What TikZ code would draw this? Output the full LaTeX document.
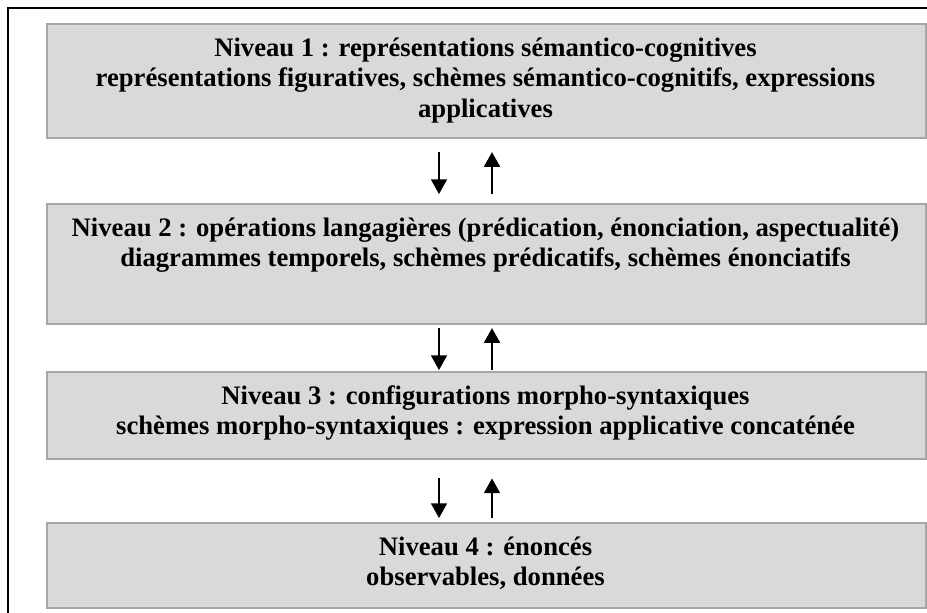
\documentclass[tikz,border=0pt]{standalone}
\usepackage{fontspec}
\setmainfont{Liberation Serif}
\usetikzlibrary{arrows.meta}
\begin{document}
\begin{tikzpicture}[x=0.75pt,y=-0.75pt,
  levelbox/.style={draw=boxedge, fill=boxfill, line width=1.6pt,
    minimum width=659pt, inner sep=0pt, anchor=north west},
  textline/.style={anchor=base, inner sep=0pt,
    font=\bfseries\fontsize{20}{23}\selectfont},
  flow/.style={line width=1.2pt, -{Triangle[width=12pt,length=11pt]}}]
\definecolor{boxfill}{HTML}{D9D9D9}
\definecolor{boxedge}{HTML}{A6A6A6}
\useasboundingbox (0,0) rectangle (927,612);
\clip (0,0) rectangle (927,612);
\fill[white] (0,0) rectangle (927,612);
% outer frame, running past the right and bottom edges
\draw[line width=1.6pt] (8,8) rectangle (960,650);

% the four levels
\node[levelbox, minimum height=85.5pt]  (n1) at (46,23) {};
\node[levelbox, minimum height=90pt]    (n2) at (46,203) {};
\node[levelbox, minimum height=65pt]    (n3) at (46,371) {};
\node[levelbox, minimum height=63.75pt] (n4) at (46,522) {};

% level texts, one node per line, placed on their baselines
\node[textline] (t1a) at (485.5,56)    {Niveau 1 : représentations sémantico-cognitives};
\node[textline] (t1b) at (485.5,86.6)  {représentations figuratives, schèmes sémantico-cognitifs, expressions};
\node[textline] (t1c) at (485.5,117.2) {applicatives};
\node[textline] (t2a) at (485.5,236)   {Niveau 2 : opérations langagières (prédication, énonciation, aspectualité)};
\node[textline] (t2b) at (485.5,266.6) {diagrammes temporels, schèmes prédicatifs, schèmes énonciatifs};
\node[textline] (t3a) at (485.5,404)   {Niveau 3 : configurations morpho-syntaxiques};
\node[textline] (t3b) at (485.5,434.6) {schèmes morpho-syntaxiques : expression applicative concaténée};
\node[textline] (t4a) at (485.5,555)   {Niveau 4 : énoncés};
\node[textline] (t4b) at (485.5,585.6) {observables, données};

% arrows between consecutive levels
\coordinate (dn) at (439,0);
\coordinate (up) at (492,0);
\draw[flow, shorten <=9.75pt, shorten >=6.75pt] (n1.south -| dn) -- (n2.north -| dn);
\draw[flow, shorten <=6.75pt, shorten >=9.75pt] (n2.north -| up) -- (n1.south -| up);
\draw[flow, shorten <=2.25pt, shorten >=0.75pt] (n2.south -| dn) -- (n3.north -| dn);
\draw[flow, shorten <=0.75pt, shorten >=2.25pt] (n3.north -| up) -- (n2.south -| up);
\draw[flow, shorten <=14pt, shorten >=3pt] (n3.south -| dn) -- (n4.north -| dn);
\draw[flow, shorten <=3pt, shorten >=14pt] (n4.north -| up) -- (n3.south -| up);
\end{tikzpicture}
\end{document}
